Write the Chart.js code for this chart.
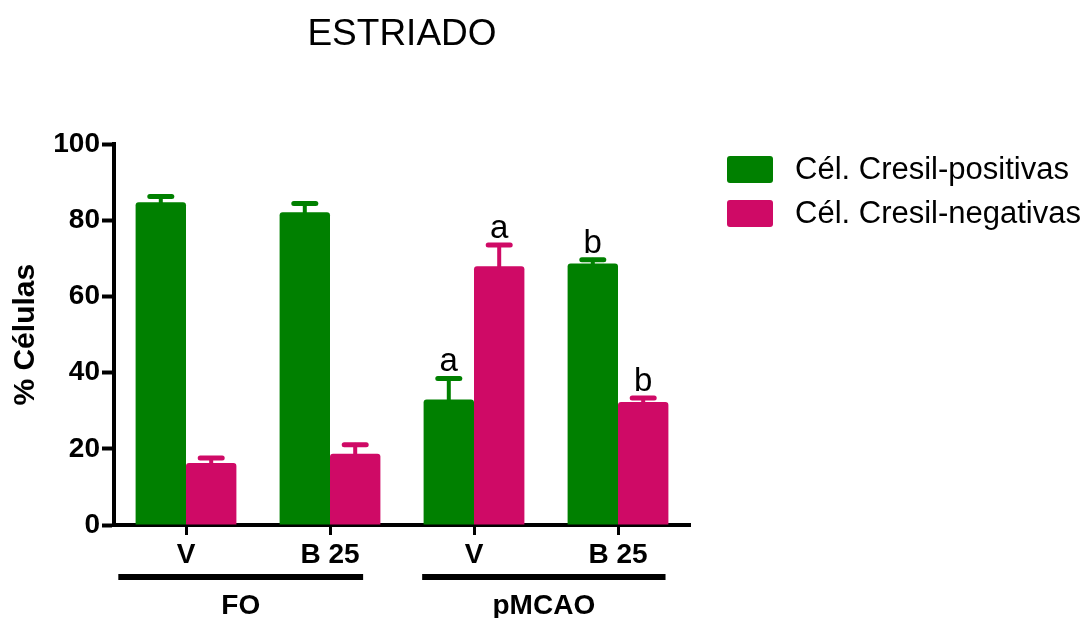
<!DOCTYPE html>
<html lang="pt-br">
<head>
    <meta charset="UTF-8">
    <title>Estriado</title>
    <script src="https://cdn.jsdelivr.net/npm/chart.js"></script>
    <style>
        html, body { margin: 0; padding: 0; background: #fff; }
        #wrap { width: 1089px; height: 618px; }
    </style>
</head>
<body>
    <div id="wrap"><canvas id="grafico"></canvas></div>
    <script>
        // Dados
        const categorias = ['V', 'B 25', 'V', 'B 25'];
        const grupos = ['FO', 'pMCAO'];
        const gruposInicio = [0, 2];
        const gruposFim = [1, 3];

        const positivas = [84.8, 82.2, 33.0, 68.7];
        const positivasErro = [1.5, 2.3, 5.5, 1.0];
        const negativas = [16.3, 18.7, 68.0, 32.3];
        const negativasErro = [1.3, 2.4, 5.6, 1.1];

        const letrasPositivas = ['', '', 'a', 'b'];
        const letrasNegativas = ['', '', 'a', 'b'];

        const ticksY = [0, 20, 40, 60, 80, 100];

        const VERDE = '#008000';
        const ROSA = '#CF0A66';
        const FONTE = "'Liberation Sans', Arial, sans-serif";

        // Barras de erro (só para cima) e letras de significância
        const errosPlugin = {
            id: 'erros',
            afterDatasetsDraw(chart) {
                const ctx = chart.ctx;
                const y = chart.scales.y;
                chart.data.datasets.forEach((ds, i) => {
                    const meta = chart.getDatasetMeta(i);
                    meta.data.forEach((bar, j) => {
                        const topo = y.getPixelForValue(ds.data[j]);
                        const cap = y.getPixelForValue(ds.data[j] + ds.erro[j]);
                        ctx.save();
                        ctx.strokeStyle = ds.backgroundColor;
                        ctx.lineCap = 'round';
                        ctx.lineWidth = 4;
                        ctx.beginPath();
                        ctx.moveTo(bar.x, topo);
                        ctx.lineTo(bar.x, cap);
                        ctx.stroke();
                        ctx.lineWidth = 5;
                        ctx.beginPath();
                        ctx.moveTo(bar.x - 11, cap);
                        ctx.lineTo(bar.x + 11, cap);
                        ctx.stroke();
                        if (ds.letras[j]) {
                            ctx.fillStyle = '#000';
                            ctx.font = '33px ' + FONTE;
                            ctx.textAlign = 'center';
                            ctx.textBaseline = 'alphabetic';
                            ctx.fillText(ds.letras[j], bar.x, cap - 7);
                        }
                        ctx.restore();
                    });
                });
            }
        };

        // Linhas dos grupos (FO / pMCAO) e legenda à direita
        const extrasPlugin = {
            id: 'extras',
            afterDraw(chart) {
                const ctx = chart.ctx;
                const x = chart.scales.x;
                const largura = x.getPixelForValue(1) - x.getPixelForValue(0);
                const recuos = [[0.47, 0.23], [0.36, 0.33]];
                ctx.save();
                grupos.forEach((g, i) => {
                    const x0 = x.getPixelForValue(gruposInicio[i]) - recuos[i][0] * largura;
                    const x1 = x.getPixelForValue(gruposFim[i]) + recuos[i][1] * largura;
                    ctx.fillStyle = '#000';
                    ctx.fillRect(x0, 574, x1 - x0, 6);
                    ctx.font = 'bold 28px ' + FONTE;
                    ctx.textAlign = 'center';
                    ctx.textBaseline = 'middle';
                    ctx.fillText(g, (x0 + x1) / 2, 606);
                });

                // legenda
                chart.data.datasets.forEach((ds, i) => {
                    const topo = 156 + i * 44;
                    ctx.fillStyle = ds.backgroundColor;
                    ctx.beginPath();
                    ctx.roundRect(727, topo, 46, 27, 3);
                    ctx.fill();
                    ctx.fillStyle = '#000';
                    ctx.font = '31px ' + FONTE;
                    ctx.textAlign = 'left';
                    ctx.textBaseline = 'middle';
                    ctx.fillText(ds.label, 795, topo + 14);
                });
                ctx.restore();
            }
        };

        const ctx = document.getElementById('grafico').getContext('2d');
        new Chart(ctx, {
            type: 'bar',
            data: {
                labels: categorias,
                datasets: [{
                    label: 'Cél. Cresil-positivas',
                    data: positivas,
                    erro: positivasErro,
                    letras: letrasPositivas,
                    backgroundColor: VERDE,
                    borderRadius: 3
                }, {
                    label: 'Cél. Cresil-negativas',
                    data: negativas,
                    erro: negativasErro,
                    letras: letrasNegativas,
                    backgroundColor: ROSA,
                    borderRadius: 3
                }]
            },
            options: {
                responsive: true,
                maintainAspectRatio: false,
                animation: false,
                categoryPercentage: 0.7,
                barPercentage: 1.0,
                layout: { padding: { left: 0, top: 0, right: 399, bottom: 0 } },
                plugins: {
                    legend: { display: false },
                    tooltip: { enabled: false },
                    title: {
                        display: true,
                        fullSize: false,
                        text: 'ESTRIADO',
                        color: '#000',
                        font: { family: FONTE, size: 37, weight: 'normal' },
                        padding: { top: 13, bottom: 87 }
                    }
                },
                scales: {
                    x: {
                        grid: {
                            display: true,
                            drawOnChartArea: false,
                            offset: false,
                            tickLength: 10,
                            tickWidth: 3,
                            color: '#000'
                        },
                        border: { display: true, color: '#000', width: 4 },
                        ticks: {
                            color: '#000',
                            padding: 3,
                            font: { family: FONTE, size: 28, weight: 'bold' }
                        },
                        afterFit(scale) { scale.height = 93; }
                    },
                    y: {
                        min: 0,
                        max: 100,
                        afterBuildTicks(scale) {
                            scale.ticks = ticksY.map(v => ({ value: v }));
                        },
                        grid: {
                            display: true,
                            drawOnChartArea: false,
                            tickLength: 12,
                            tickWidth: 4,
                            color: '#000'
                        },
                        border: { display: true, color: '#000', width: 4 },
                        ticks: {
                            color: '#000',
                            padding: 2,
                            font: { family: FONTE, size: 28, weight: 'bold' }
                        },
                        title: {
                            display: true,
                            text: '% Células',
                            color: '#000',
                            padding: { top: 8 },
                            font: { family: FONTE, size: 30, weight: 'bold' }
                        },
                        afterFit(scale) { scale.width = 114; }
                    }
                }
            },
            plugins: [errosPlugin, extrasPlugin]
        });
    </script>
</body>
</html>
